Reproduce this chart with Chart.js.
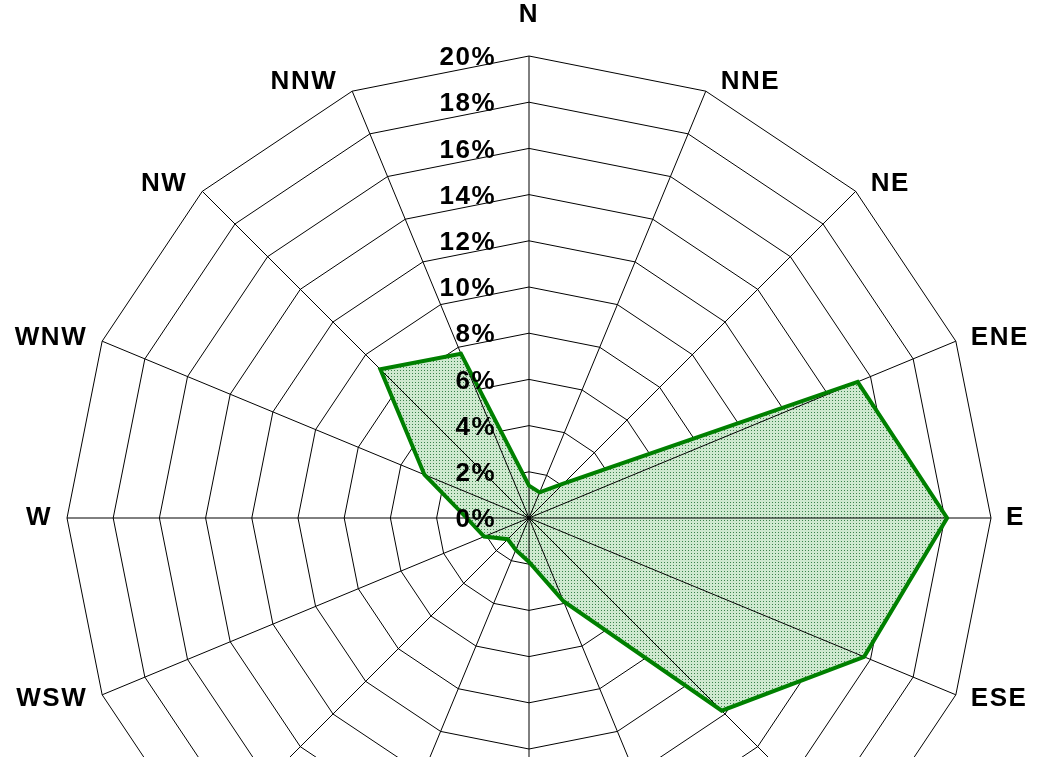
<!DOCTYPE html>
<html>
<head>
<meta charset="utf-8">
<script src="https://cdn.jsdelivr.net/npm/chart.js@4.4.0/dist/chart.umd.min.js"></script>
<style>
    body { margin: 0; background: #fff; overflow: hidden; }
</style>
</head>
<body>
<canvas id="rose" width="1042" height="1060"></canvas>
<script>
var directions = ['N', 'NNE', 'NE', 'ENE', 'E', 'ESE', 'SE', 'SSE', 'S', 'SSW', 'SW', 'WSW', 'W', 'WNW', 'NW', 'NNW'];
var frequency = [1.4, 1.2, 2.1, 15.4, 18.1, 15.7, 11.8, 3.9, 1.9, 1.5, 1.3, 2.1, 2.7, 4.9, 9.1, 7.7];
var tickValues = [0, 2, 4, 6, 8, 10, 12, 14, 16, 18, 20];
var tickLabels = ['0%', '2%', '4%', '6%', '8%', '10%', '12%', '14%', '16%', '18%', '20%'];

var canvas = document.getElementById('rose');
var ctx = canvas.getContext('2d');

// dotted green fill like the excel pattern
var tile = document.createElement('canvas');
tile.width = 3;
tile.height = 3;
var tctx = tile.getContext('2d');
tctx.fillStyle = '#cfe9cf';
tctx.fillRect(0, 0, 3, 3);
tctx.fillStyle = '#3c834c';
tctx.fillRect(1, 1, 1, 1);
var dots = ctx.createPattern(tile, 'repeat');

var labelFont = 'bold 26px "Liberation Sans", Arial, sans-serif';

// spokes go over the fill but under the green line
var spokes = {
    id: 'spokes',
    beforeDatasetDraw: function (chart) {
        var r = chart.scales.r, c = chart.ctx;
        c.save();
        c.strokeStyle = '#000';
        c.lineWidth = 1;
        c.beginPath();
        for (var i = 0; i < directions.length; i++) {
            var p = r.getPointPosition(i, r.drawingArea);
            c.moveTo(r.xCenter, r.yCenter);
            c.lineTo(p.x, p.y);
        }
        c.stroke();
        c.restore();
    }
};

var texts = {
    id: 'texts',
    afterDraw: function (chart) {
        var r = chart.scales.r, c = chart.ctx;
        c.save();
        c.font = labelFont;
        c.fillStyle = '#000';
        c.letterSpacing = '1.5px';
        c.textBaseline = 'middle';

        // tick labels, left of the N spoke
        c.textAlign = 'right';
        for (var t = 0; t < tickValues.length; t++) {
            var d = r.getDistanceFromCenterForValue(tickValues[t]);
            c.fillText(tickLabels[t], r.xCenter - 33, r.yCenter - d + 2);
        }

        // direction labels beside the outer ring
        c.textAlign = 'center';
        for (var i = 0; i < directions.length; i++) {
            var p = r.getPointPosition(i, r.drawingArea);
            var a = i * 2 * Math.PI / directions.length;
            var s = Math.sin(a), co = Math.cos(a);
            var w = c.measureText(directions[i]).width;
            var x, y;
            if (Math.abs(s) < 0.01) {
                x = p.x;
                y = p.y - Math.sign(co) * 41;
            } else {
                x = p.x + Math.sign(s) * (15 + w / 2);
                y = p.y - co * 10;
            }
            c.fillText(directions[i], x, y);
        }
        c.restore();
    }
};

var windRose = new Chart(canvas, {
    type: 'radar',
    data: {
        labels: directions,
        datasets: [{
            data: frequency,
            fill: true,
            backgroundColor: dots,
            borderColor: '#008000',
            borderWidth: 4,
            borderJoinStyle: 'miter',
            pointRadius: 0,
            pointHoverRadius: 0
        }]
    },
    options: {
        responsive: false,
        animation: false,
        events: [],
        plugins: {
            legend: { display: false },
            tooltip: { enabled: false }
        },
        scales: {
            r: {
                min: 0,
                max: 20,
                ticks: { stepSize: 2, display: false },
                grid: { color: '#000', lineWidth: 1 },
                angleLines: { display: false },
                pointLabels: { display: false },
                afterSetDimensions: function (s) {
                    s.xCenter = 529;
                    s.yCenter = 518;
                    s.drawingArea = 462;
                }
            }
        }
    },
    plugins: [spokes, texts]
});
</script>
</body>
</html>
